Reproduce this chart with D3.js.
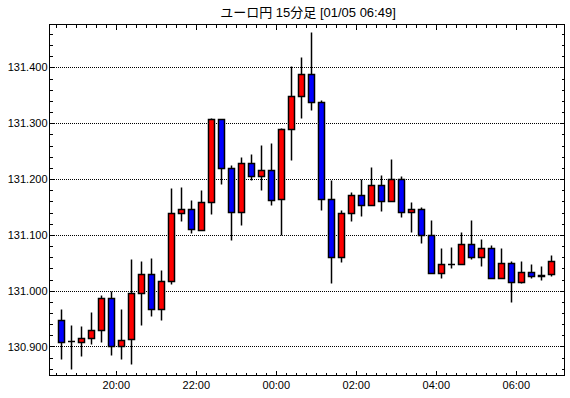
<!DOCTYPE html>
<html>
<head>
<meta charset="utf-8">
<script src="https://cdnjs.cloudflare.com/ajax/libs/d3/7.8.5/d3.min.js"></script>
<style>
  body { margin: 0; background: #fff; }
  svg { display: block; }
  text { font-family: "Liberation Sans", "Noto Sans CJK JP", sans-serif; fill: #000; }
</style>
</head>
<body>
<svg width="570" height="398"></svg>
<script>
var title = "ユーロ円 15分足 [01/05 06:49]";

var times = ["18:30","18:45","19:00","19:15","19:30","19:45","20:00","20:15","20:30","20:45",
             "21:00","21:15","21:30","21:45","22:00","22:15","22:30","22:45","23:00","23:15",
             "23:30","23:45","00:00","00:15","00:30","00:45","01:00","01:15","01:30","01:45",
             "02:00","02:15","02:30","02:45","03:00","03:15","03:30","03:45","04:00","04:15",
             "04:30","04:45","05:00","05:15","05:30","05:45","06:00","06:15","06:30","06:45"];

var opens  = [130.948,130.909,130.908,130.916,130.930,130.986,130.900,130.914,130.995,131.029,
              130.968,131.018,131.139,131.147,131.109,131.159,131.307,131.220,131.141,131.229,
              131.205,131.216,131.164,131.289,131.348,131.388,131.339,131.164,131.061,131.139,
              131.171,131.154,131.189,131.161,131.200,131.141,131.146,131.100,131.032,131.048,
              131.048,131.084,131.061,131.077,131.023,131.050,131.016,131.034,131.028,131.029];
var highs  = [130.967,130.938,130.936,130.961,130.993,130.999,130.967,131.056,131.053,131.059,
              131.037,131.184,131.186,131.162,131.181,131.309,131.307,131.225,131.240,131.245,
              131.261,131.265,131.291,131.402,131.418,131.463,131.341,131.198,131.145,131.177,
              131.200,131.221,131.207,131.236,131.205,131.159,131.150,131.127,131.076,131.079,
              131.106,131.127,131.092,131.082,131.076,131.054,131.054,131.048,131.045,131.064];
var lows   = [130.877,130.860,130.883,130.905,130.908,130.885,130.878,130.868,130.939,130.955,
              130.948,131.012,131.124,131.103,131.109,131.137,131.192,131.091,131.117,131.198,
              131.181,131.153,131.100,131.234,131.309,131.323,131.145,131.013,131.051,131.124,
              131.133,131.154,131.143,131.161,131.132,131.105,131.086,131.032,131.023,131.041,
              131.048,131.057,131.045,131.023,131.023,130.980,131.013,131.023,131.020,131.027];
var closes = [130.908,130.909,130.916,130.930,130.986,130.900,130.912,130.995,131.029,130.968,
              131.018,131.139,131.147,131.111,131.159,131.307,131.220,131.141,131.229,131.205,
              131.216,131.163,131.289,131.348,131.388,131.338,131.164,131.061,131.139,131.171,
              131.154,131.189,131.161,131.200,131.141,131.146,131.100,131.032,131.048,131.048,
              131.084,131.061,131.077,131.023,131.050,131.016,131.034,131.027,131.027,131.054];

var yDomain = [130.848, 131.477];
var gridValues = [130.9, 131.0, 131.1, 131.2, 131.3, 131.4];

function toDate(s) {
    var h = +s.slice(0, 2), m = +s.slice(3, 5);
    return new Date(2015, 0, h >= 12 ? 4 : 5, h, m);
}

var data = times.map(function(t, i) {
    return {date: toDate(t), o: opens[i], h: highs[i], l: lows[i], c: closes[i]};
});

var plotL = 49.5, plotR = 564.5, plotT = 24.5, plotB = 375.5;

var x = d3.scaleTime()
    .domain([new Date(2015, 0, 4, 18, 20, 30), new Date(2015, 0, 5, 7, 13, 0)])
    .range([plotL, plotR]);
var y = d3.scaleLinear().domain(yDomain).range([plotB, plotT]);

var svg = d3.select("svg");
svg.append("rect").attr("width", 570).attr("height", 398).attr("fill", "#fff");

svg.append("text")
    .attr("x", (plotL + plotR) / 2 + 1)
    .attr("y", 17)
    .attr("text-anchor", "middle")
    .style("font-size", "13px")
    .text(title);

// dotted grid, dashes aligned on whole pixels
svg.append("g").selectAll("line")
    .data(gridValues)
    .enter()
    .append("line")
    .attr("x1", 50)
    .attr("x2", 564)
    .attr("y1", function(d) { return Math.round(y(d)) + 0.5; })
    .attr("y2", function(d) { return Math.round(y(d)) + 0.5; })
    .attr("stroke", "#000")
    .attr("stroke-dasharray", "1,1")
    .attr("shape-rendering", "crispEdges");

// candles
var half = 7.5 * 60 * 1000;
var cand = svg.append("g").selectAll("g")
    .data(data)
    .enter()
    .append("g");

function cx(d) { return Math.round(x(new Date(+d.date + half))); }
function py(v) { return Math.round(y(v)) + 0.5; }

cand.append("line")
    .attr("x1", function(d) { return cx(d) + 0.5; })
    .attr("x2", function(d) { return cx(d) + 0.5; })
    .attr("y1", function(d) { return py(d.h); })
    .attr("y2", function(d) { return py(d.l); })
    .attr("stroke", "#000")
    .attr("stroke-width", 1.5);

cand.each(function(d) {
    var g = d3.select(this);
    var c = cx(d);
    var y1 = py(Math.max(d.o, d.c)), y2 = py(Math.min(d.o, d.c));
    if (d.o === d.c) {
        g.append("line")
            .attr("x1", c - 3).attr("x2", c + 4)
            .attr("y1", y1).attr("y2", y1)
            .attr("stroke", "#000")
            .attr("stroke-width", 1.5);
    } else {
        g.append("rect")
            .attr("x", c - 2.5)
            .attr("width", 6)
            .attr("y", y1)
            .attr("height", Math.max(y2 - y1, 0.5))
            .attr("fill", d.c > d.o ? "#ff0000" : "#0000ff")
            .attr("stroke", "#000")
            .attr("stroke-width", 1.5);
    }
});

// axes with inward ticks
var major = d3.timeHour.every(2), minor = d3.timeMinute.every(15);

svg.append("g").attr("transform", "translate(0," + plotB + ")")
    .call(d3.axisBottom(x).ticks(minor).tickSize(-3).tickFormat(""));
svg.append("g").attr("transform", "translate(0," + plotB + ")")
    .call(d3.axisBottom(x).ticks(major).tickSize(-5).tickPadding(6).tickFormat(d3.timeFormat("%H:%M")));
svg.append("g").attr("transform", "translate(0," + plotT + ")")
    .call(d3.axisTop(x).ticks(minor).tickSize(-3).tickFormat(""));
svg.append("g").attr("transform", "translate(0," + plotT + ")")
    .call(d3.axisTop(x).ticks(major).tickSize(-5).tickFormat(""));

var minorY = d3.range(130.86, 131.47, 0.02);
svg.append("g").attr("transform", "translate(" + plotL + ",0)")
    .call(d3.axisLeft(y).tickValues(minorY).tickSize(-3).tickFormat(""));
svg.append("g").attr("transform", "translate(" + plotL + ",0)")
    .call(d3.axisLeft(y).tickValues(gridValues).tickSize(-5).tickPadding(2).tickFormat(d3.format(".3f")));
svg.append("g").attr("transform", "translate(" + plotR + ",0)")
    .call(d3.axisRight(y).tickValues(minorY).tickSize(-3).tickFormat(""));
svg.append("g").attr("transform", "translate(" + plotR + ",0)")
    .call(d3.axisRight(y).tickValues(gridValues).tickSize(-5).tickFormat(""));

svg.selectAll(".domain").remove();
svg.selectAll(".tick line").attr("stroke", "#000").attr("shape-rendering", "crispEdges");
svg.selectAll(".tick text").style("font-size", "11px").style("font-family", "Liberation Sans, sans-serif");

svg.append("rect")
    .attr("x", plotL).attr("y", plotT)
    .attr("width", plotR - plotL).attr("height", plotB - plotT)
    .attr("fill", "none")
    .attr("stroke", "#000");
</script>
</body>
</html>
